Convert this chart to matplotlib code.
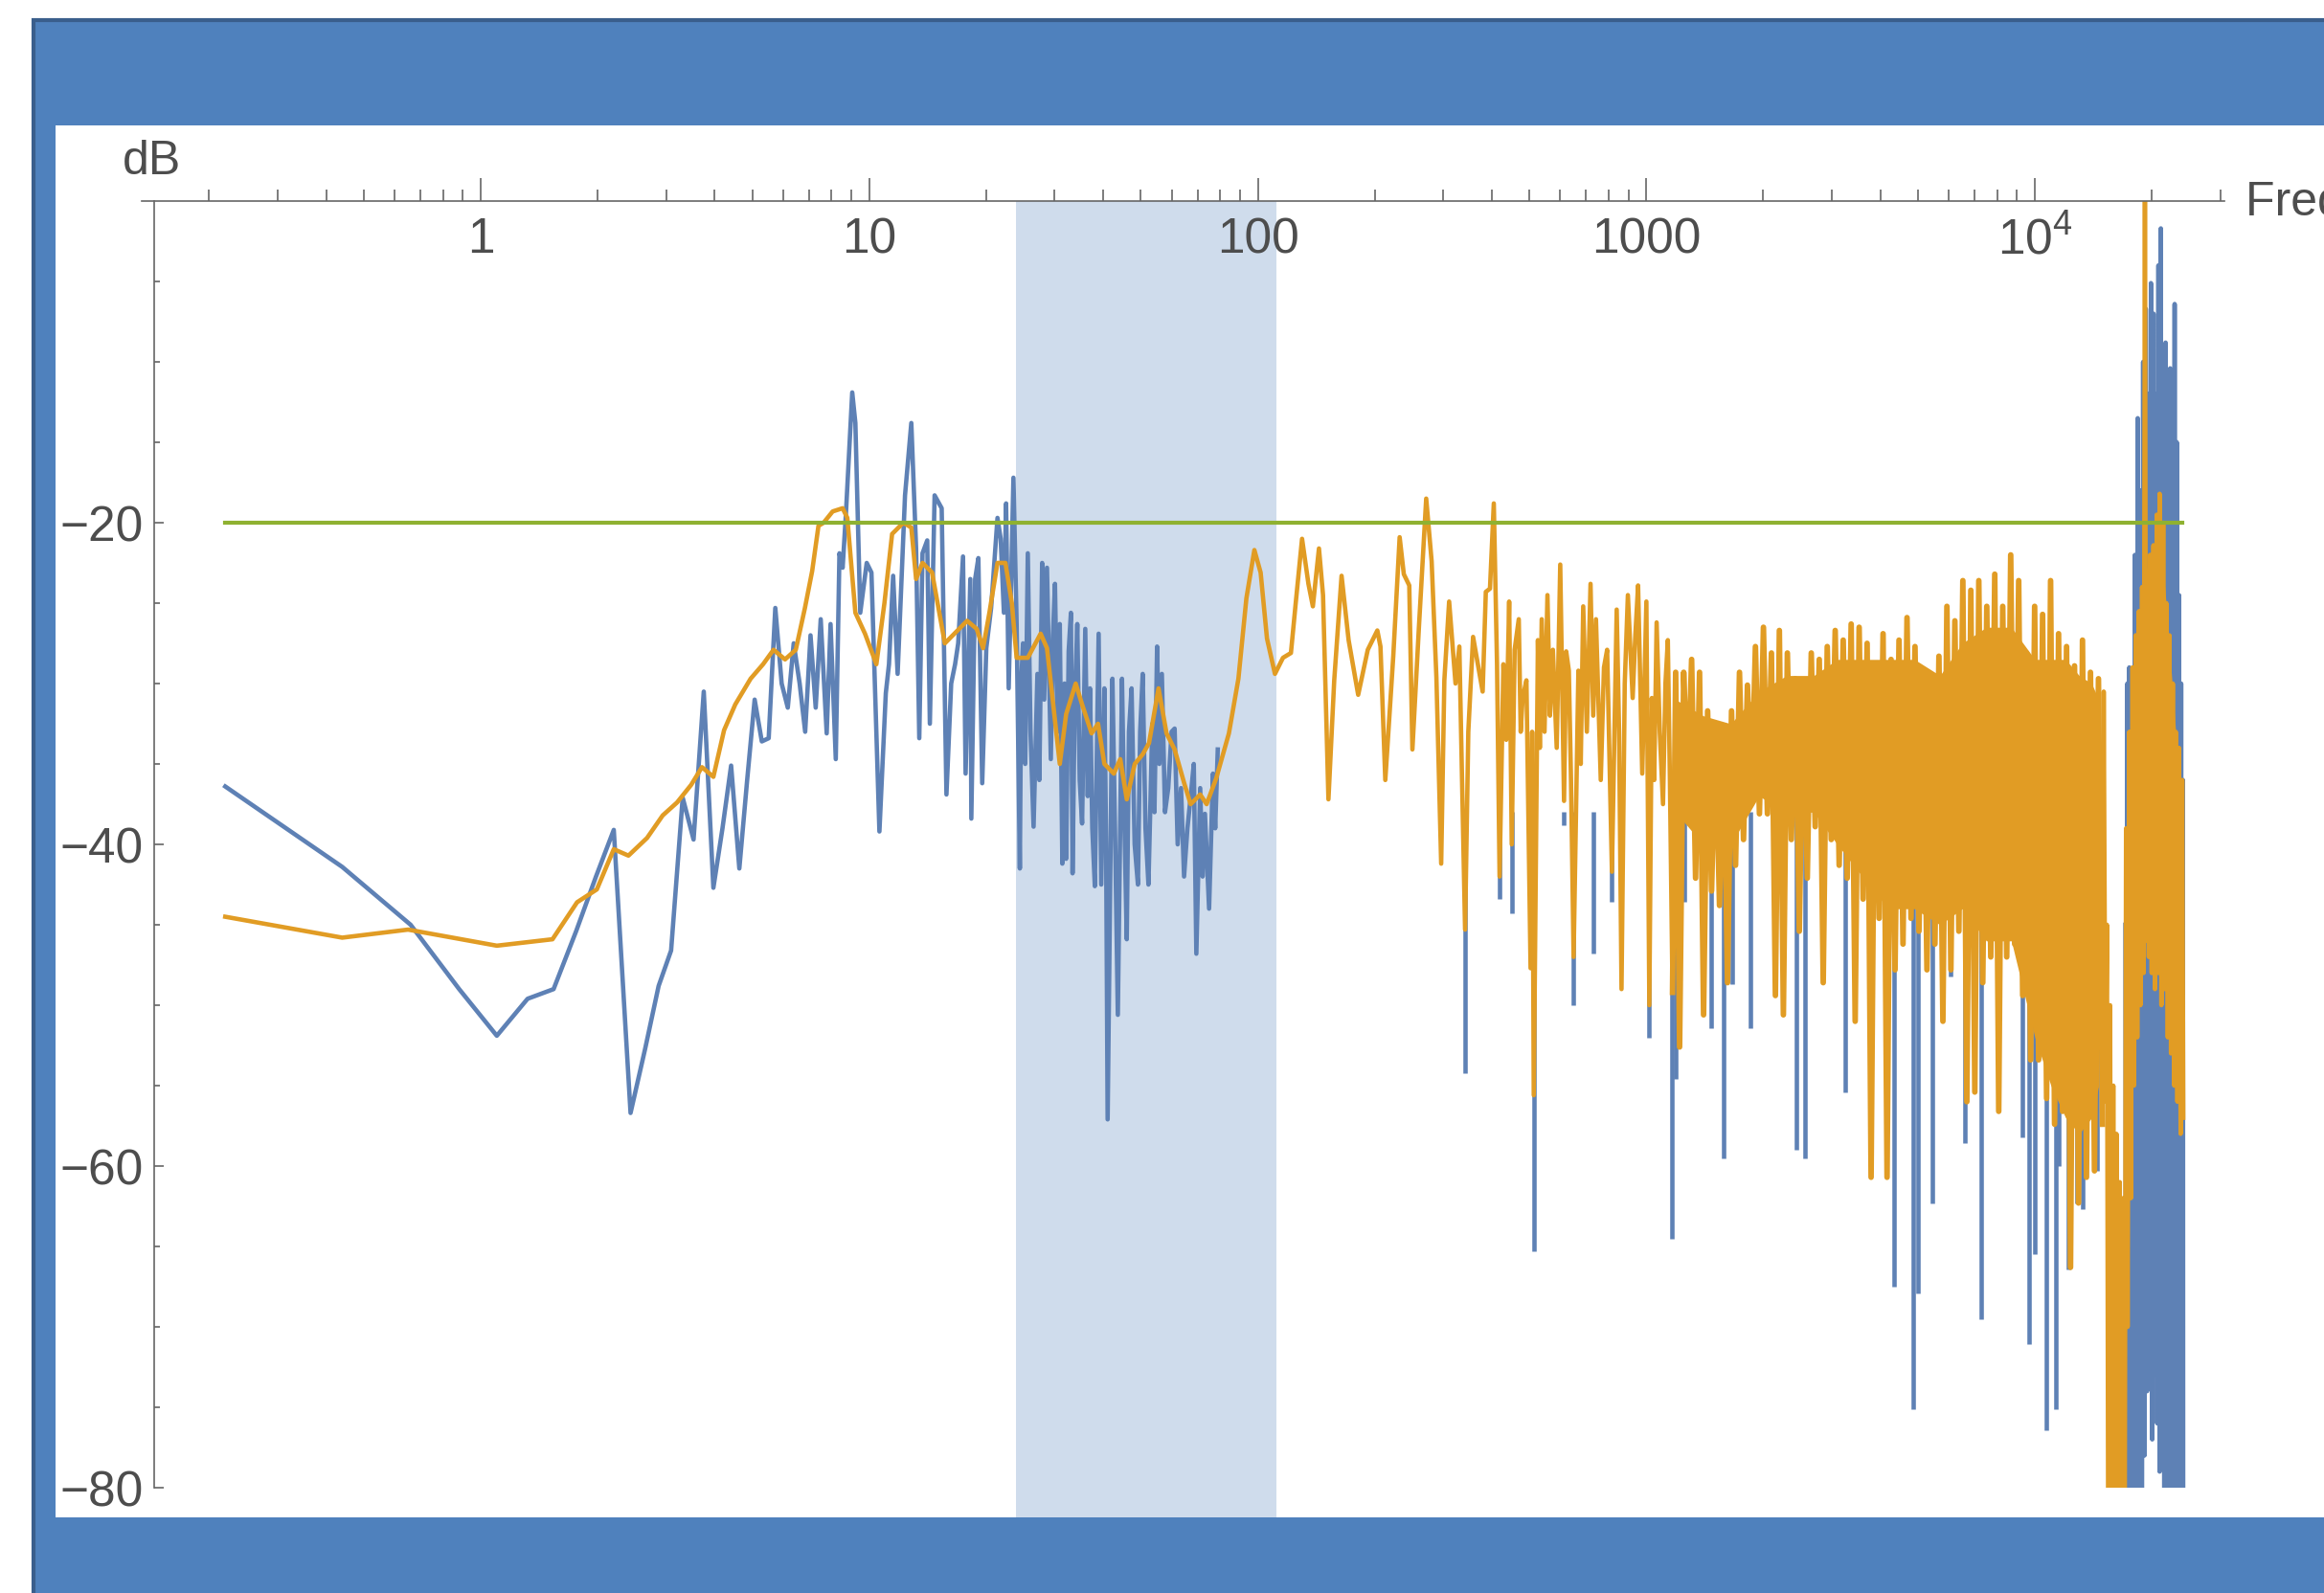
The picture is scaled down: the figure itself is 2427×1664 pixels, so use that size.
import numpy as np
import matplotlib
matplotlib.use('Agg')
import matplotlib.pyplot as plt
from matplotlib.patches import Rectangle
from matplotlib.ticker import FixedLocator, FixedFormatter, LogLocator, NullFormatter

plt.rcParams['font.family'] = ['Liberation Sans', 'DejaVu Sans']
plt.rcParams['mathtext.fontset'] = 'custom'
plt.rcParams['mathtext.rm'] = 'Liberation Sans'

W, H = 2427, 1665

# ---- data ----
blue_f = [0.22, 0.44, 0.66, 0.88, 1.10, 1.32, 1.54, 1.76, 1.98, 2.20,
          2.43, 2.65, 2.87, 3.09, 3.31, 3.53, 3.75, 3.97, 4.19, 4.41,
          4.63, 4.85, 5.07, 5.29, 5.51, 5.73, 5.95, 6.17, 6.39, 6.62,
          6.84, 7.06, 7.28, 7.50,
          7.77, 7.95, 8.20, 8.38, 8.54, 8.71, 9.04, 9.21, 9.48, 9.85,
          10.13, 10.62, 11.03, 11.24, 11.52, 11.83, 12.36, 12.83, 13.20, 13.45,
          13.71, 14.10, 14.32, 14.73, 15.36, 15.80, 16.25, 16.63, 16.94, 17.43,
          17.70, 18.20, 18.31, 18.73, 19.09, 19.53, 20.01, 20.59, 21.38, 21.79,
          22.21, 22.50, 22.85, 23.50, 23.95, 24.41, 24.60, 24.87, 25.20, 25.59,
          26.00, 26.48, 27.09, 27.40, 27.86, 28.20, 28.67, 29.33, 29.70, 30.06,
          30.50, 30.93, 31.40, 31.80, 32.12, 32.60, 33.04, 33.36, 33.80, 34.31,
          34.80, 35.30, 35.97, 36.50, 37.00, 37.50, 38.07, 38.94, 39.54, 40.29,
          40.70, 41.07, 42.25, 42.90, 43.63, 44.72, 45.30, 46.00, 46.60, 47.33,
          48.20, 49.15, 49.80, 50.56, 51.40, 52.31, 53.52, 54.20, 55.06, 55.80,
          56.64, 57.70, 58.82, 60.00, 61.09, 62.20, 63.45, 64.60, 65.90, 67.20,
          68.44, 69.48, 71.08, 72.10, 73.11, 74.93, 76.66, 77.70, 78.88]
blue_db = [-36.4, -41.4, -45.0, -49.0, -51.9, -49.6, -49.0, -45.4, -42.0, -39.1,
           -56.7, -52.7, -48.8, -46.6, -37.1, -39.7, -30.5, -42.7, -39.0, -35.1,
           -41.5, -36.0, -31.0, -33.6, -33.4, -25.3, -30.0, -31.5, -27.5, -30.0,
           -33.0, -27.0, -31.5, -26.0,
           -33.1, -26.3, -34.7, -21.9, -22.8, -19.4, -11.9, -13.8, -25.6, -22.5,
           -23.1, -39.2, -30.6, -28.8, -23.3, -29.4, -18.3, -13.8, -21.6, -33.4,
           -21.9, -21.1, -32.5, -18.3, -19.1, -36.9, -30.0, -28.8, -27.5, -22.1,
           -35.6, -23.5, -38.4, -23.5, -22.2, -36.2, -27.8, -25.3, -19.7, -21.0,
           -25.6, -18.8, -30.3, -17.2, -26.3, -41.5, -30.0, -27.5, -35.0, -21.9,
           -33.0, -38.9, -29.4, -36.0, -22.5, -31.0, -22.8, -34.7, -27.0, -23.8,
           -33.0, -26.3, -41.2, -30.0, -40.9, -28.0, -25.6, -41.8, -31.0, -26.3,
           -36.0, -38.7, -26.6, -37.0, -30.3, -39.0, -42.6, -26.9, -42.5, -30.3,
           -40.0, -57.1, -29.7, -39.0, -50.6, -29.7, -38.0, -45.9, -33.0, -30.3,
           -40.0, -42.5, -33.0, -29.4, -39.0, -42.5, -32.5, -38.0, -27.7, -35.0,
           -29.4, -38.0, -36.5, -33.0, -32.8, -40.0, -36.5, -42.0, -39.0, -37.0,
           -35.0, -46.8, -36.5, -42.0, -38.1, -44.0, -35.6, -39.0, -34.1]

# blue dips that reach below the orange curve
blue_dip_f = [341.6, 419, 450, 514, 614, 650, 731, 816, 1018, 1164,
              1190, 1250, 1465, 1580, 1660, 1855, 2440, 2560, 3245, 3740,
              4330, 4855, 4995, 5440, 6060, 6600, 7290, 8030, 9280, 9640,
              10010, 10700, 11320, 11520, 12200, 12810, 13300, 14200, 14460]
blue_dip_db = [-54.2, -43.4, -44.3, -65.3, -38.8, -50.0, -46.8, -43.6, -52.0, -64.5,
               -54.6, -43.6, -51.4, -59.5, -48.7, -51.4, -59.0, -59.5, -55.4, -50.2,
               -67.5, -75.1, -67.9, -62.3, -48.2, -58.6, -69.5, -53.4, -58.2, -71.1,
               -65.5, -76.4, -75.1, -60.0, -66.4, -62.3, -62.7, -60.1, -60.3]

blue_tail_f = [17100, 17200, 17300, 17400, 17500, 17650, 17800, 17950, 18100, 18250,
               18400, 18550, 18700, 18850, 19000, 19150, 19300, 19450, 19600, 19750,
               19900, 20050, 20200, 20350, 20500, 20650, 20800, 20950, 21100, 21250,
               21400, 21550, 21700, 21850, 22000, 22150, 22300, 22450, 22600, 22750,
               22900, 23050, 23200, 23350, 23500, 23650, 23800, 23950, 24050, 24100]
blue_tail_db = [-45, -95, -30, -95, -29, -95, -35, -95, -22, -95,
                -13.5, -95, -18, -95, -10, -78, -6.7, -74, -12, -72,
                -5.1, -77, -7, -73, -12, -76, -4, -79, -1.7, -78,
                -9, -95, -8.8, -95, -14, -95, -10.4, -95, -18, -95,
                -6.4, -95, -15, -95, -24.5, -95, -30, -95, -36, -95]

orange_f = [0.22, 0.44, 0.65, 1.10, 1.53, 1.77, 1.99, 2.20, 2.40, 2.68,
            2.94, 3.20, 3.48, 3.71, 3.97, 4.23, 4.52, 4.95, 5.33, 5.67,
            6.07, 6.47, 6.83, 7.13, 7.40, 7.63, 8.05, 8.54, 8.78, 9.21,
            9.75, 10.43, 10.94, 11.45, 12.24, 12.83, 13.20, 13.71, 14.51, 15.65,
            16.56, 17.86, 18.90, 19.63, 20.38, 21.38, 22.41, 23.28, 23.95, 25.59,
            27.61, 28.67, 30.93, 32.12, 33.99, 35.30, 37.35, 38.80, 40.29, 42.61,
            44.26, 46.00, 48.23, 50.56, 52.49, 55.53, 58.23, 61.09, 64.66, 67.16,
            71.08, 73.84, 78.15, 84.26, 89.15, 93.47, 97.99, 101.7, 105.6, 110.7,
            116.1, 121.7, 125.2, 130.0, 135.0, 138.6, 143.7, 147.2, 152.0, 157.3,
            164.3, 171.3, 181.3, 191.9, 203.1, 206.9, 212.9, 223.2, 231.8, 237.6,
            245.4, 250.0, 259.7, 271.3, 280.2, 288.2, 296.5, 302.1, 310.8, 322.8,
            330.2, 341.6, 348.2, 358.2, 368.5, 379.1, 386.3, 395.9, 405.0, 412.8,
            419.1, 428.7, 436.0, 443.6, 450.4, 458.2, 469.6, 475.0, 480.4, 491.4,
            503.6, 508.3, 513.2, 526.0, 532.0, 538.0, 547.0, 556.6, 565.0, 574.8,
            588.0, 600.4, 614.1, 622.0, 631.8, 640.0, 649.9, 668.6, 678.0, 688.0,
            703.0, 718.5, 730.0, 742.0, 763.4, 778.0, 792.8, 815.6, 839.0, 851.0,
            863.3, 880.0, 896.5, 922.3, 937.0, 952.4, 976.1, 1000.4, 1018, 1033,
            1048, 1063, 1083, 1104, 1120, 1136, 1150, 1168]
orange_db = [-44.5, -45.8, -45.3, -46.3, -45.9, -43.6, -42.8, -40.3, -40.7, -39.6,
             -38.2, -37.4, -36.3, -35.2, -35.8, -32.9, -31.3, -29.7, -28.8, -27.9,
             -28.5, -27.9, -25.3, -23.0, -20.2, -20.0, -19.3, -19.1, -19.7, -25.6,
             -26.9, -28.8, -25.0, -20.7, -20.0, -20.3, -23.5, -22.5, -23.1, -27.5,
             -26.9, -26.1, -26.6, -27.8, -25.6, -22.5, -22.5, -25.0, -28.4, -28.4,
             -26.9, -27.8, -35.0, -31.9, -30.0, -31.3, -33.1, -32.5, -35.0, -35.6,
             -34.7, -37.2, -35.0, -34.4, -33.7, -30.3, -33.1, -34.1, -36.2, -37.5,
             -36.9, -37.5, -35.9, -33.1, -29.7, -24.7, -21.7, -23.1, -27.2, -29.4,
             -28.4, -28.1, -25.0, -21.0, -23.8, -25.2, -21.6, -24.5, -37.2, -29.8,
             -23.3, -27.3, -30.7, -27.9, -26.7, -27.7, -36.0, -28.3, -20.9, -23.2,
             -23.9, -34.1, -26.6, -18.5, -22.4, -29.6, -41.2, -29.8, -24.9, -30.0,
             -27.7, -45.3, -33.0, -27.1, -28.8, -30.5, -24.3, -24.1, -18.8, -28.8,
             -42.0, -28.8, -33.5, -24.9, -40.0, -27.9, -26.0, -33.0, -30.9, -29.8,
             -47.7, -33.0, -55.6, -27.3, -34.0, -26.0, -33.0, -24.5, -32.0, -27.9,
             -34.0, -22.6, -37.3, -28.0, -29.2, -36.0, -47.0, -29.2, -35.0, -25.2,
             -33.0, -23.8, -32.0, -26.0, -36.0, -29.0, -27.9, -41.7, -25.4, -33.0,
             -49.0, -30.0, -24.5, -30.9, -27.0, -23.9, -35.6, -24.9, -50.0, -30.9,
             -36.0, -26.2, -33.0, -37.5, -30.0, -27.3, -36.0, -49.2]

# dense part 1.2 kHz - 15 kHz: alternating peak / trough
band_f = [1168, 1190, 1218, 1248, 1278, 1308, 1339, 1371, 1404, 1438, 1472,
          1507, 1543, 1580, 1618, 1657, 1697, 1737, 1779, 1821, 1865,
          1909, 1955, 2002, 2050, 2099, 2149, 2200, 2253, 2307, 2362,
          2418, 2476, 2535, 2596, 2658, 2721, 2787, 2853, 2922, 2992,
          3063, 3136, 3212, 3289, 3367, 3448, 3530, 3614, 3701, 3789,
          3880, 3973, 4068, 4165, 4265, 4367, 4471, 4578, 4688, 4800,
          4915, 5032, 5153, 5276, 5402, 5531, 5664, 5799, 5938, 6080,
          6225, 6374, 6527, 6683, 6843, 7006, 7174, 7345, 7521, 7701,
          7885, 8073, 8267, 8465, 8667, 8874, 9087, 9304, 9527, 9755,
          9988, 10227, 10471, 10721, 10978, 11240, 11510, 11785, 12067, 12355,
          12651, 12954, 13263, 13580, 13905, 14237, 14579, 14927]
band_db = [-49.2, -29.3, -52.6, -29.3, -36.5, -28.5, -42.1, -29.3, -50.6, -31.7, -42.9,
           -32.9, -43.8, -33.3, -48.6, -31.7, -41.3, -29.3, -39.7, -30.1, -37.3,
           -27.7, -38.1, -26.5, -38.1, -28.1, -49.4, -26.7, -50.6, -28.1, -39.7,
           -29.7, -45.4, -30.1, -42.1, -28.1, -38.9, -28.5, -48.6, -27.7, -39.7,
           -26.7, -41.3, -27.3, -42.1, -26.3, -51.0, -26.5, -43.4, -27.5, -60.7,
           -28.9, -44.6, -26.9, -60.7, -28.5, -47.8, -27.3, -46.2, -25.9, -44.6,
           -27.7, -45.4, -29.3, -47.8, -30.1, -46.2, -28.3, -51.0, -25.2, -47.8,
           -26.1, -45.4, -23.6, -56.0, -24.2, -55.4, -23.6, -48.6, -25.2, -47.0,
           -23.2, -56.6, -25.2, -47.0, -22.0, -46.2, -23.6, -49.4, -28.1, -53.4,
           -25.2, -53.4, -25.7, -55.8, -23.6, -57.4, -26.9, -56.6, -27.7, -66.3,
           -28.9, -62.3, -27.3, -60.7, -29.3, -60.3, -29.7, -57.4]

orange_tail_f = [14927, 15040, 15200, 15330, 15480, 15620, 15770, 15920, 16070, 16220, 16380,
                 16540, 16700, 16850, 17000, 17170, 17330, 17500, 17670, 17840, 18000,
                 18180, 18350, 18530, 18700, 18880, 19050, 19200, 19350, 19500, 19650,
                 19800, 19990, 20200, 20380, 20600, 20770, 20950, 21170, 21400, 21570,
                 21800, 21990, 22200, 22410, 22650, 22840, 23050, 23280, 23500, 23730,
                 23950, 24100]
orange_tail_db = [-57.4, -30.5, -56, -45, -95, -50, -95, -55, -95, -58, -95,
                  -61, -95, -62, -95, -39, -70, -33, -62, -29, -55,
                  -27, -52, -25.5, -50, -24, -48, 0.5, -46, -23, -47,
                  -22, -48, -21.4, -49, -19.5, -48, -18.2, -50, -20, -49,
                  -25, -52, -27, -53, -30, -55, -33, -56, -34, -58,
                  -36, -57]

# solid core of the dense orange region (upper / lower edge)
core_f = [1190, 1400, 1650, 1950, 2300, 2700, 3100, 3600, 4200, 4900,
          5700, 6500, 7500, 8700, 10000, 11000, 12000, 13000, 14000, 14600]
core_hi = [-31, -32, -32.5, -30.5, -29.5, -29.5, -28.5, -28.5, -28.5, -28.5,
           -29.5, -27.5, -26.5, -26.5, -28.5, -28.5, -28.5, -29.5, -30, -31]
core_lo = [-38, -40, -40, -37, -38, -38, -40, -42, -44, -44,
           -45, -44, -46, -46, -52, -55, -57, -58, -57, -55]
tail_core_f = [17300, 17800, 18500, 19300, 20000, 20800, 21600, 22400, 23200, 24050]
tail_core_hi = [-38, -32, -27, -25, -23, -21, -24, -29, -34, -38]
tail_core_lo = [-58, -52, -48, -46, -46, -47, -48, -52, -55, -56]

green_f = [0.22, 24000]
green_db = [-20, -20]

band_lo, band_hi = 23.9, 111.7

x_major = [1, 10, 100, 1000, 10000]
x_labels = ['1', '10', '100', '1000', r'$\mathrm{10^{4}}$']
y_major = [-80, -60, -40, -20]
y_minor = [-75, -70, -65, -55, -50, -45, -35, -30, -25, -15, -10, -5]

BLUE = '#5E81B5'
ORANGE = '#E19C24'
GREEN = '#8FB131'
SHADE = '#CFDCEC'
AXC = '#666666'
TXT = '#4D4D4D'

fig = plt.figure(figsize=(W / 100, H / 100), dpi=100)
fig.patch.set_facecolor('white')


def px_rect(x0, y0, x1, y1, **kw):
    # pixel box, origin top-left
    return Rectangle((x0 / W, 1 - y1 / H), (x1 - x0) / W, (y1 - y0) / H,
                     transform=fig.transFigure, **kw)


fig.add_artist(px_rect(35, 22, W + 40, H + 40, facecolor='#4F81BD',
                       edgecolor='#3A5E8C', linewidth=3, zorder=-10))
fig.add_artist(px_rect(58, 132, W + 40, 1586, facecolor='white',
                       edgecolor='none', zorder=-9))

ax = fig.add_axes([148 / W, 1 - 1555 / H, (2323 - 148) / W, (1555 - 211) / H])
ax.patch.set_visible(False)
ax.set_xscale('log')
ax.set_xlim(0.1341, 30755)
ax.set_ylim(-80, 0)

ax.axvspan(band_lo, band_hi, ymin=-1.85 / 80, ymax=1, color=SHADE, lw=0,
           clip_on=False, zorder=0)

lw = 3.3
ax.plot(blue_f, blue_db, color=BLUE, lw=lw, zorder=2)
ax.vlines(blue_dip_f, blue_dip_db, -38, color=BLUE, lw=lw, zorder=2)
ax.plot(blue_tail_f, blue_tail_db, color=BLUE, lw=lw, zorder=2)

ax.plot(orange_f, orange_db, color=ORANGE, lw=lw, zorder=3)
ax.plot(band_f, band_db, color=ORANGE, lw=4.2, zorder=3)
ax.plot(orange_tail_f, orange_tail_db, color=ORANGE, lw=lw, zorder=3)
ax.fill_between(core_f, core_lo, core_hi, color=ORANGE, lw=0, zorder=3)
ax.fill_between(tail_core_f, tail_core_lo, tail_core_hi, color=ORANGE, lw=0, zorder=3)

ax.plot(green_f, green_db, color=GREEN, lw=3.0, zorder=4)

# axes through the origin style
ax.spines['top'].set_visible(False)
ax.spines['right'].set_visible(False)
ax.spines['left'].set_position(('data', 0.1444))
ax.spines['bottom'].set_position(('data', 0))
for s in ['left', 'bottom']:
    ax.spines[s].set_color(AXC)
    ax.spines[s].set_linewidth(1.2)
    ax.spines[s].set_zorder(5)

ax.xaxis.set_major_locator(FixedLocator(x_major))
ax.xaxis.set_major_formatter(FixedFormatter(x_labels))
ax.xaxis.set_minor_locator(LogLocator(base=10, subs=np.arange(2, 10)))
ax.xaxis.set_minor_formatter(NullFormatter())
ax.yaxis.set_major_locator(FixedLocator(y_major))
ax.yaxis.set_minor_locator(FixedLocator(y_minor))

ax.tick_params(axis='x', which='major', direction='in', length=17, width=1.2,
               color=AXC, pad=11, labelsize=37, labelcolor=TXT)
ax.tick_params(axis='x', which='minor', direction='in', length=8.5, width=1.2, color=AXC)
ax.tick_params(axis='y', which='major', direction='in', length=7, width=1.2,
               color=AXC, pad=8, labelsize=37, labelcolor=TXT)
ax.tick_params(axis='y', which='minor', direction='in', length=4.3, width=1.2, color=AXC)

fig.text(128 / W, 1 - 182 / H, 'dB', ha='left', va='baseline', fontsize=36, color=TXT)
fig.text(2345 / W, 1 - 225 / H, 'Frequency (Hz)', ha='left', va='baseline',
         fontsize=36, color=TXT)

fig.savefig('out.png', dpi=100)
